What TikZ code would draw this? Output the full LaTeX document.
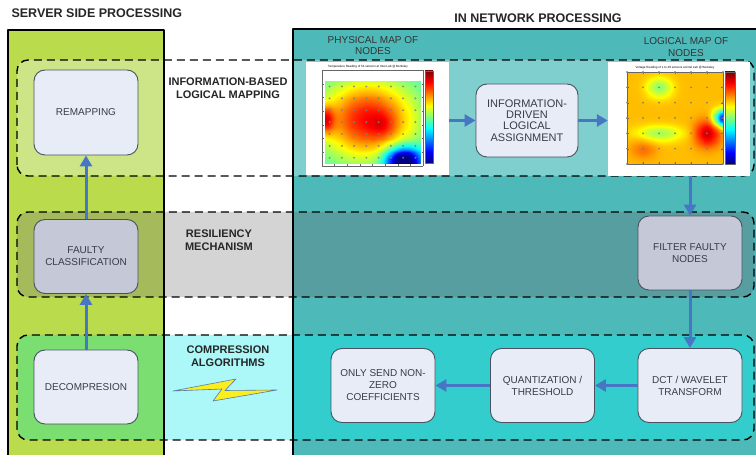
\documentclass[tikz,border=0pt]{standalone}
\usepackage{fontspec}
\setmainfont{Liberation Sans}
\usepackage{tikz}
\usepackage{pgfplots}
\pgfplotsset{compat=1.18}
\usetikzlibrary{arrows.meta,backgrounds}

\definecolor{srvgreen}{RGB}{186,219,76}
\definecolor{srvgreenA}{RGB}{205,229,135}
\definecolor{srvgreenB}{RGB}{165,186,90}
\definecolor{srvgreenC}{RGB}{122,222,112}
\definecolor{netteal}{RGB}{78,185,185}
\definecolor{nettealA}{RGB}{128,207,207}
\definecolor{nettealB}{RGB}{86,158,160}
\definecolor{nettealC}{RGB}{52,205,205}
\definecolor{midgrey}{RGB}{212,212,212}
\definecolor{midcyan}{RGB}{172,248,248}
\definecolor{boxlight}{RGB}{232,236,246}
\definecolor{boxgrey}{RGB}{197,200,214}
\definecolor{boxline}{RGB}{72,82,96}
\definecolor{boxtext}{RGB}{55,60,70}
\definecolor{flowblue}{RGB}{70,118,196}
\definecolor{boltyellow}{RGB}{250,238,30}

% jet colours for the colour bars
\definecolor{jetA}{rgb}{0,0,0.5}
\definecolor{jetB}{rgb}{0,0,1}
\definecolor{jetC}{rgb}{0,1,1}
\definecolor{jetD}{rgb}{1,1,0}
\definecolor{jetE}{rgb}{1,0,0}
\definecolor{jetF}{rgb}{0.5,0,0}
\pgfdeclareverticalshading{jetbar}{100bp}{color(0bp)=(jetA); color(25bp)=(jetA);
  color(31.25bp)=(jetB); color(43.75bp)=(jetC); color(56.25bp)=(jetD);
  color(68.75bp)=(jetE); color(75bp)=(jetF); color(100bp)=(jetF)}

\pgfplotsset{heatmap/.style={scale only axis, view={0}{90}, colormap/jet,
    point meta min=0, point meta max=1, enlargelimits=false,
    xticklabels={}, yticklabels={}, ztick=\empty,
    tick style={black!60, line width=0.3pt}, major tick length=1.5pt,
    axis line style={black!60, line width=0.3pt}, axis on top}}

\begin{document}
\begin{tikzpicture}[x=1pt,y=1pt,line join=round,
    procbox/.style={draw=boxline, line width=0.9pt, rounded corners=11pt, fill=boxlight,
      minimum width=104pt, minimum height=74pt, align=center, text=boxtext,
      font=\fontsize{10}{12}\selectfont, inner sep=2pt},
    flow/.style={-{Triangle[length=11pt,width=12pt]}, line width=3pt, draw=flowblue},
    bandline/.style={dash pattern=on 8pt off 5pt, line width=1.4pt, rounded corners=11pt},
    heading/.style={font=\bfseries\fontsize{12.5}{14}\selectfont, text=black!85},
    tag/.style={font=\bfseries\fontsize{11}{13}\selectfont, align=center, text=black!85},
    maptitle/.style={font=\fontsize{10}{11.5}\selectfont, align=center, text=black!80},
    mapframe/.style={fill=white, inner sep=0pt}]

  \useasboundingbox (0,0) rectangle (756,455);
  \clip (0,0) rectangle (756,455);

  % server / network panels
  \fill[srvgreen] (8,-10) rectangle (164,425);
  \fill[netteal] (293,-10) rectangle (770,426);

  % the three bands
  \foreach \lo/\hi/\cl/\cm/\cr in {279/395/srvgreenA/white/nettealA,
      158/243/srvgreenB/midgrey/nettealB, 15/120/srvgreenC/midcyan/nettealC}{
    \begin{scope}
      \clip[rounded corners=11pt] (17,\lo) rectangle (754,\hi);
      \fill[\cl] (0,\lo-5) rectangle (164,\hi+5);
      \fill[\cm] (164,\lo-5) rectangle (293,\hi+5);
      \fill[\cr] (293,\lo-5) rectangle (760,\hi+5);
    \end{scope}
  }

  \draw[line width=2pt] (8,-10) -- (8,425) -- (164,425) -- (164,-10);
  \draw[line width=2pt] (293,-10) -- (293,426) -- (770,426);

  \foreach \lo/\hi in {279/395, 158/243, 15/120}
    \draw[bandline] (17,\lo) rectangle (754,\hi);

  % headings
  \node[heading, anchor=west] (srvhead) at (8,442) {SERVER SIDE PROCESSING};
  \node[heading] (nethead) at (538,437) {IN NETWORK PROCESSING};

  \node[tag] (maptag) at (228,367) {INFORMATION-BASED\\LOGICAL MAPPING};
  \node[tag] (restag) at (219,214.5) {RESILIENCY\\MECHANISM};
  \node[tag] (comptag) at (228,99) {COMPRESSION\\ALGORITHMS};

  \node[maptitle] (physlbl) at (373,409.5) {PHYSICAL MAP OF\\NODES};
  \node[maptitle] (loglbl) at (686,408) {LOGICAL MAP OF\\NODES};

  % physical map
  \node[mapframe, minimum width=143pt, minimum height=113pt] (physmap) at (377.5,336.5) {};
  \coordinate (physplot) at (322,289);
  \begin{axis}[heatmap, at={(physplot)}, anchor=south west, width=101pt, height=96pt,
      xmin=0, xmax=40, ymin=0, ymax=35, xtick={0,5,...,40}, ytick={0,5,...,35}]
    \addplot3[surf, shader=interp, domain=1:39, y domain=1:31, samples=31]
      {0.42 + 0.45*exp(-((x-18)^2/350 + (y-17)^2/200)) + 0.3*exp(-((x-1)^2/12 + (y-17)^2/25))
       - 0.6*exp(-((x-32)^2/50 + (y-2)^2/25)) + 0.08*exp(-((x-24)^2/20 + (y-15)^2/20))};
    \addplot3[only marks, mark=o, mark size=0.8pt, black!50, domain=3:37, y domain=3:29,
      samples=8, samples y=7] {1.5};
  \end{axis}
  \shade[shading=jetbar] (425,292) rectangle (433,384);
  \draw[black!60, line width=0.3pt] (425,292) rectangle (433,384);
  \node[font=\fontsize{3}{3}\selectfont] (phystitle) at (368,388.5)
    {Temperature Reading of 54 sensors at Intel Lab @ Berkeley};

  % logical map
  \node[mapframe, minimum width=142pt, minimum height=114pt] (logmap) at (679,336) {};
  \coordinate (logplot) at (627,291);
  \begin{axis}[heatmap, at={(logplot)}, anchor=south west, width=96pt, height=92pt,
      xmin=1, xmax=7, ymin=10, ymax=70, xtick={1,...,7}, ytick={10,20,...,70}]
    \addplot3[surf, shader=interp, domain=1:7, y domain=10:70, samples=31]
      {0.69 + 0.24*exp(-((x-6)^2/0.6 + (y-30)^2/70)) - 0.58*exp(-((x-7)^2/0.3 + (y-40)^2/30))
       - 0.18*exp(-((x-3)^2/0.6 + (y-60)^2/40)) - 0.16*exp(-((x-3)^2/2 + (y-30)^2/25))
       + 0.08*exp(-((x-2)^2/0.6 + (y-20)^2/40))};
    \addplot3[only marks, mark=o, mark size=0.8pt, black!50, domain=1:7, y domain=10:70,
      samples=7, samples y=7] {1.5};
  \end{axis}
  \shade[shading=jetbar] (725,291) rectangle (735,383);
  \draw[black!60, line width=0.3pt] (725,291) rectangle (735,383);
  \node[font=\fontsize{3}{3}\selectfont] (logtitle) at (675,387.5)
    {Voltage Reading of 1 to 49 sensors at Intel Lab @ Berkeley};

  % server side boxes
  \node[procbox, minimum height=85pt] (remap) at (86,342.5) {REMAPPING};
  \node[procbox, fill=boxgrey] (faulty) at (86,198.5) {FAULTY\\CLASSIFICATION};
  \node[procbox] (decomp) at (86,68) {DECOMPRESION};

  % in network boxes
  \node[procbox, minimum width=102pt, minimum height=73pt, font=\fontsize{11}{11.3}\selectfont]
    (assign) at (527,334.5) {INFORMATION-\\DRIVEN\\LOGICAL\\ASSIGNMENT};
  \node[procbox, fill=boxgrey] (filter) at (690,202) {FILTER FAULTY\\NODES};
  \node[procbox] (dct) at (690,69.5) {DCT / WAVELET\\TRANSFORM};
  \node[procbox] (quant) at (542.5,69.5) {QUANTIZATION /\\THRESHOLD};
  \node[procbox] (sendnz) at (383,69.5) {ONLY SEND NON-\\ZERO\\COEFFICIENTS};

  % wireless link
  \filldraw[fill=boltyellow, draw=flowblue!70!gray, line width=0.6pt]
    (173,64) -- (236,76) -- (225,64.5) -- (277,65) -- (213,54) -- (222,66) -- cycle;

  % flow
  \draw[flow] (physmap.east |- assign.west) -- (assign.west);
  \draw[flow] (assign.east) -- (assign.east -| logmap.west);
  \draw[flow] (filter.north |- logmap.south) -- (filter.north);
  \draw[flow] (filter.south) -- (dct.north);
  \draw[flow] (dct.west) -- (quant.east);
  \draw[flow] (quant.west) -- (sendnz.east);
  \draw[flow] (decomp.north) -- (faulty.south);
  \draw[flow] (faulty.north) -- (remap.south);

\end{tikzpicture}
\end{document}
